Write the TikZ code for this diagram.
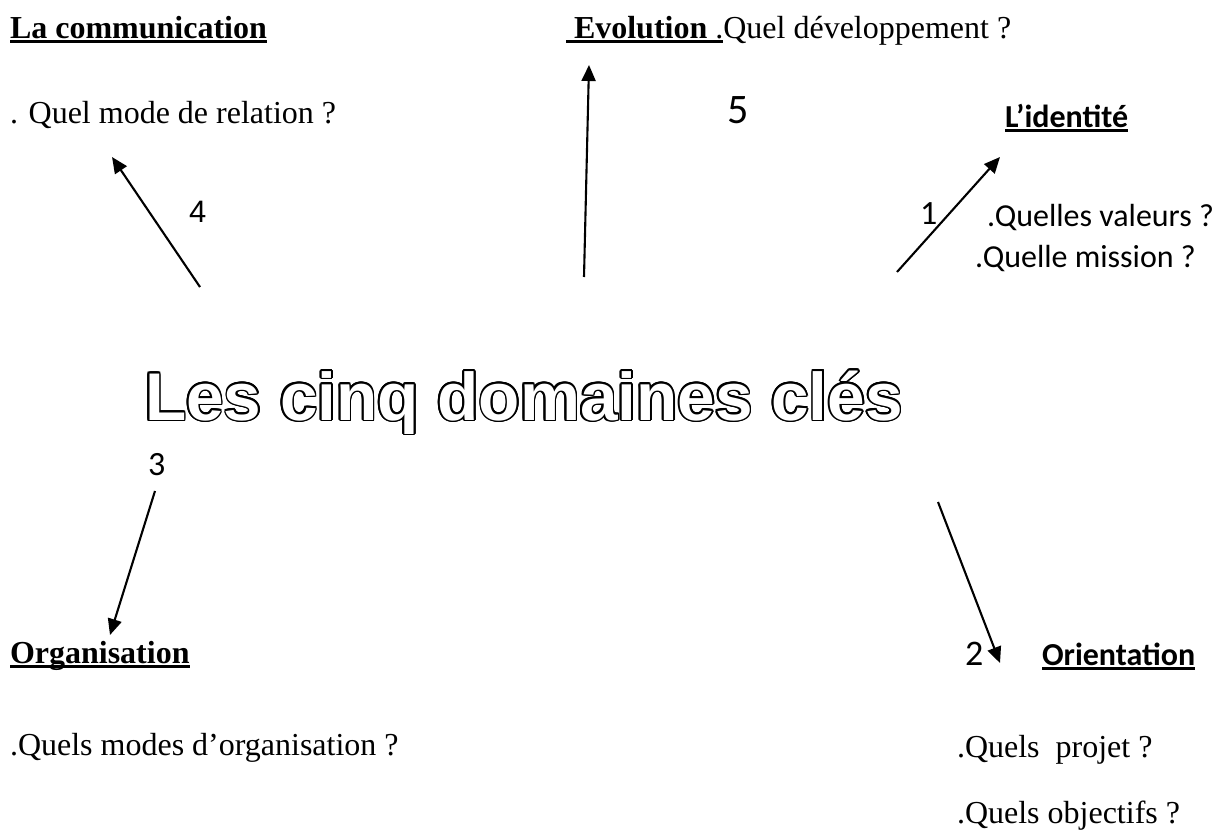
\documentclass[tikz,border=0pt]{standalone}
\usepackage{fontspec}
\setmainfont{Liberation Serif}
\newfontfamily\calfont{Carlito}
\newfontfamily\arifont{Liberation Sans}
\usetikzlibrary{arrows.meta}
\newcommand\myul[1]{\setbox0\hbox{#1}\rlap{\rule[-4.5pt]{\wd0}{2.6pt}}\box0}
\newcommand\outlined[1]{%
  \leavevmode
  \foreach \ang in {0,22.5,...,337.5}{%
    \pgfmathsetlengthmacro\dx{1.7*cos(\ang)}%
    \pgfmathsetlengthmacro\dy{1.7*sin(\ang)}%
    \rlap{\hspace*{\dx}\raisebox{\dy}{\color{black}#1}}%
  }%
  {\color{white}#1}}
\begin{document}
\begin{tikzpicture}[x=1pt,y=-1pt,
  lbl/.style={anchor=base west,inner sep=0pt,outer sep=0pt},
  tms/.style={lbl,font=\fontsize{32}{38}\selectfont},
  clb/.style={lbl,font=\calfont\fontsize{32}{38}\selectfont},
  arr/.style={line width=2.1pt,-{Triangle[length=16pt,width=14pt]}}]
\useasboundingbox[fill=white] (0,0) rectangle (1223,833);

\node[tms] (comm) at (10,38) {\myul{\textbf{La communication}}};
\node[tms] (commq) at (10,123) {. Quel mode de relation ?};
\node[tms] (evo) at (566,38) {\myul{\textbf{\ Evolution} .}Quel développement ?};
\node[lbl,font=\calfont\fontsize{42}{48}\selectfont] (five) at (727,123) {5};
\node[clb] (ident) at (1005,127) {\myul{\textbf{L’identité}}};
\node[lbl,font=\arifont\fontsize{31}{36}\selectfont] (four) at (189,222) {4};
\node[lbl,font=\calfont\fontsize{34}{40}\selectfont] (one) at (920,224) {1};
\node[clb] (val) at (987,226) {.Quelles valeurs ?};
\node[clb] (mis) at (975,267) {.Quelle mission ?};

\node[lbl,font=\arifont\bfseries\fontsize{67.5}{80}\selectfont] (title) at (145,420) {\outlined{Les cinq domaines clés}};

\node[lbl,font=\calfont\fontsize{34}{40}\selectfont] (three) at (148,475) {3};
\node[tms] (org) at (10,663) {\myul{\textbf{Organisation}}};
\node[lbl,font=\calfont\fontsize{36}{42}\selectfont] (two) at (965,665) {2};
\node[clb] (ori) at (1042,665) {\myul{\textbf{Orientation}}};
\node[tms] (orgq) at (10,755) {.Quels modes d’organisation ?};
\node[tms] (proj) at (957,757) {.Quels\ \ projet ?};
\node[tms] (obj) at (957,823) {.Quels objectifs ?};

\coordinate (a4s) at (200,287); \coordinate (a4e) at (112,157);
\coordinate (a5s) at (584,277); \coordinate (a5e) at (589,65);
\coordinate (a1s) at (897,272); \coordinate (a1e) at (1000,157);
\coordinate (a3s) at (155,491); \coordinate (a3e) at (110,635);
\coordinate (a2s) at (938,502); \coordinate (a2e) at (1000,663);

\draw[arr] (a4s) -- (a4e);
\draw[arr] (a5s) -- (a5e);
\draw[arr] (a1s) -- (a1e);
\draw[arr] (a3s) -- (a3e);
\draw[arr] (a2s) -- (a2e);
\end{tikzpicture}
\end{document}
